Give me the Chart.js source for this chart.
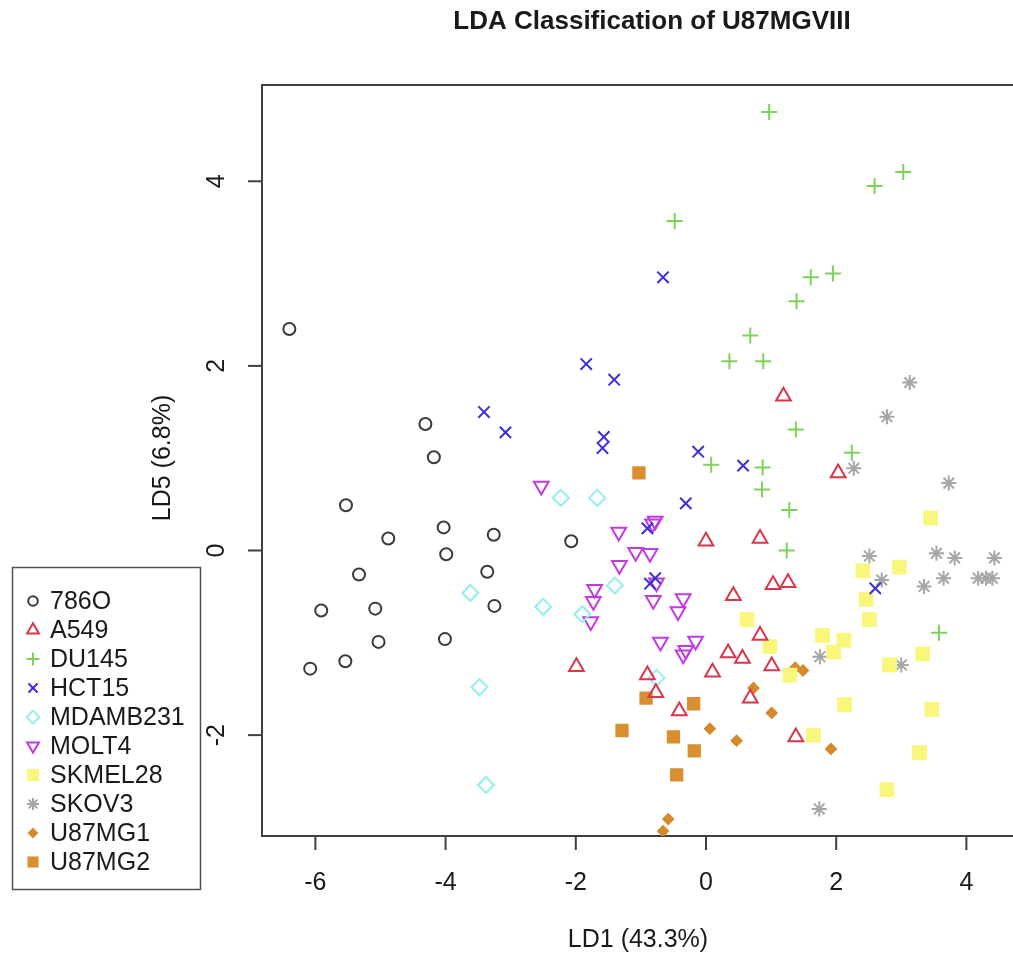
<!DOCTYPE html>
<html>
<head>
<meta charset="utf-8">
<script src="https://cdn.jsdelivr.net/npm/chart.js@4.4.1/dist/chart.umd.min.js"></script>
<style>
  html, body { margin: 0; padding: 0; background: #fff; overflow: hidden; }
</style>
</head>
<body>
<canvas id="lda" width="1013" height="954"></canvas>
<script>
// LD1 / LD5 scores per cell line
const x786O = [-6.40, -4.31, -4.18, -5.53, -4.88, -4.03, -3.26, -3.99, -5.33, -3.36, -2.07, -5.91, -5.08, -3.25, -5.03, -4.01, -5.54, -6.08];
const y786O = [2.40, 1.37, 1.01, 0.49, 0.13, 0.25, 0.17, -0.04, -0.26, -0.23, 0.10, -0.65, -0.63, -0.60, -0.99, -0.96, -1.20, -1.28];

const xA549 = [1.19, 2.03, 0.83, 0.00, 1.03, 1.26, 0.42, 0.83, 0.34, 0.56, 1.01, -1.99, -0.90, 0.10, -0.77, 0.68, -0.41, 1.38];
const yA549 = [1.67, 0.84, 0.13, 0.10, -0.37, -0.35, -0.49, -0.92, -1.11, -1.17, -1.25, -1.26, -1.35, -1.32, -1.54, -1.60, -1.74, -2.02];

const xDU145 = [0.97, 3.03, 2.59, -0.48, 1.95, 1.61, 1.39, 0.68, 0.36, 0.88, 1.38, 2.24, 0.08, 0.87, 0.86, 1.28, 1.24, 3.58];
const yDU145 = [4.75, 4.10, 3.95, 3.57, 3.00, 2.96, 2.70, 2.33, 2.05, 2.05, 1.31, 1.06, 0.93, 0.90, 0.66, 0.44, 0.00, -0.89];

const xHCT15 = [-0.66, -1.84, -1.41, -3.41, -3.08, -1.57, -1.59, -0.12, 0.57, -0.31, -0.90, -0.86, -0.78, 2.60];
const yHCT15 = [2.96, 2.02, 1.85, 1.50, 1.28, 1.23, 1.11, 1.07, 0.92, 0.51, 0.24, -0.36, -0.30, -0.41];

const xMDAMB231 = [-2.23, -1.67, -1.40, -3.62, -2.50, -1.90, -3.48, -0.76, -3.38];
const yMDAMB231 = [0.57, 0.57, -0.38, -0.46, -0.61, -0.69, -1.48, -1.38, -2.54];

const xMOLT4 = [-2.53, -1.34, -1.08, -0.86, -1.33, -0.82, -0.78, -1.71, -1.73, -1.77, -0.81, -0.76, -0.35, -0.43, -0.70, -0.16, -0.35, -0.31];
const yMOLT4 = [0.70, 0.20, -0.02, -0.03, -0.16, 0.29, 0.32, -0.42, -0.55, -0.77, -0.54, -0.35, -0.52, -0.66, -0.99, -0.98, -1.13, -1.08];

const xSKMEL28 = [3.45, 2.41, 2.97, 2.46, 2.51, 1.79, 2.12, 1.96, 3.33, 2.82, 1.29, 2.13, 3.47, 1.65, 3.28, 2.78, 0.63, 0.98];
const ySKMEL28 = [0.35, -0.22, -0.18, -0.53, -0.75, -0.92, -0.97, -1.10, -1.12, -1.24, -1.35, -1.67, -1.72, -2.00, -2.19, -2.59, -0.75, -1.04];

const xSKOV3 = [3.13, 2.78, 2.27, 3.73, 2.51, 3.54, 3.82, 4.43, 2.70, 3.35, 3.65, 4.18, 4.30, 4.40, 1.75, 3.00, 1.74];
const ySKOV3 = [1.82, 1.45, 0.89, 0.73, -0.06, -0.03, -0.08, -0.08, -0.32, -0.39, -0.30, -0.30, -0.30, -0.30, -1.15, -1.24, -2.80];

const xU87MG1 = [1.37, 1.49, 0.73, 1.01, 0.06, 0.47, 1.92, -0.58, -0.66];
const yU87MG1 = [-1.27, -1.30, -1.49, -1.76, -1.93, -2.06, -2.15, -2.91, -3.04];

const xU87MG2 = [-1.03, -0.92, -0.19, -1.29, -0.50, -0.18, -0.45];
const yU87MG2 = [0.84, -1.60, -1.66, -1.95, -2.02, -2.17, -2.43];

const xTicks = [-6, -4, -2, 0, 2, 4];
const yTicks = [-2, 0, 2, 4];

const FONT = '"Liberation Sans", Arial, Helvetica, sans-serif';
const NONE = 'rgba(0,0,0,0)';

function pts(xs, ys) {
  return xs.map((v, i) => ({ x: v, y: ys[i] }));
}

// one entry per cell line: R-like plotting symbols
const series = [
  { label: '786O',     xs: x786O,     ys: y786O,     style: 'circle',   r: 6,   rot: 0,   stroke: '#3a3a3a', fill: NONE },
  { label: 'A549',     xs: xA549,     ys: yA549,     style: 'triangle', r: 8.5, rot: 0,   stroke: '#d8364a', fill: NONE },
  { label: 'DU145',    xs: xDU145,    ys: yDU145,    style: 'cross',    r: 8,   rot: 0,   stroke: '#7dd35a', fill: NONE },
  { label: 'HCT15',    xs: xHCT15,    ys: yHCT15,    style: 'crossRot', r: 8,   rot: 0,   stroke: '#3a2fd8', fill: NONE },
  { label: 'MDAMB231', xs: xMDAMB231, ys: yMDAMB231, style: 'rectRot',  r: 8,   rot: 0,   stroke: '#92eef0', fill: NONE },
  { label: 'MOLT4',    xs: xMOLT4,    ys: yMOLT4,    style: 'triangle', r: 8.5, rot: 180, stroke: '#c23ae2', fill: NONE },
  { label: 'SKMEL28',  xs: xSKMEL28,  ys: ySKMEL28,  style: 'rect',     r: 9,   rot: 0,   stroke: '#f8f77c', fill: '#f8f77c' },
  { label: 'SKOV3',    xs: xSKOV3,    ys: ySKOV3,    style: 'star',     r: 7.5, rot: 0,   stroke: '#a6a6a6', fill: NONE },
  { label: 'U87MG1',   xs: xU87MG1,   ys: yU87MG1,   style: 'rectRot',  r: 5,   rot: 0,   stroke: '#d58a2c', fill: '#d58a2c' },
  { label: 'U87MG2',   xs: xU87MG2,   ys: yU87MG2,   style: 'rect',     r: 8,   rot: 0,   stroke: '#d98f30', fill: '#d98f30' }
];

// box, ticks, labels and title drawn R-style
const rFrame = {
  id: 'rFrame',
  beforeDatasetsDraw(chart) {
    const { ctx, chartArea: a } = chart;
    ctx.save();
    ctx.strokeStyle = '#404040';
    ctx.lineWidth = 2;
    ctx.beginPath();
    ctx.moveTo(chart.width + 5, a.top);
    ctx.lineTo(a.left, a.top);
    ctx.lineTo(a.left, a.bottom);
    ctx.lineTo(chart.width + 5, a.bottom);
    ctx.stroke();
    ctx.restore();
  },
  afterDraw(chart) {
    const { ctx, chartArea: a, scales } = chart;
    const sx = scales.x, sy = scales.y;
    ctx.save();
    ctx.strokeStyle = '#404040';
    ctx.lineWidth = 2;
    ctx.fillStyle = '#1a1a1a';
    ctx.font = '25px ' + FONT;
    ctx.textAlign = 'center';
    ctx.textBaseline = 'middle';

    xTicks.forEach(t => {
      const px = sx.getPixelForValue(t);
      ctx.beginPath();
      ctx.moveTo(px, a.bottom);
      ctx.lineTo(px, a.bottom + 14);
      ctx.stroke();
      ctx.fillText(String(t), px, 883);
    });

    yTicks.forEach(t => {
      const py = sy.getPixelForValue(t);
      ctx.beginPath();
      ctx.moveTo(a.left, py);
      ctx.lineTo(a.left - 14, py);
      ctx.stroke();
      ctx.save();
      ctx.translate(217, py);
      ctx.rotate(-Math.PI / 2);
      ctx.fillText(String(t), 0, 0);
      ctx.restore();
    });

    // axis titles
    ctx.fillText('LD1 (43.3%)', 638, 940);
    ctx.save();
    ctx.translate(163, 458);
    ctx.rotate(-Math.PI / 2);
    ctx.fillText('LD5 (6.8%)', 0, 0);
    ctx.restore();

    // main title
    ctx.font = 'bold 26px ' + FONT;
    ctx.fillText('LDA Classification of U87MGVIII', 652, 22);

    // legend box
    ctx.fillStyle = '#fff';
    ctx.fillRect(12, 567, 188, 322);
    ctx.strokeStyle = '#505050';
    ctx.lineWidth = 1.5;
    ctx.strokeRect(12.5, 567.5, 188, 322);

    ctx.font = '25px ' + FONT;
    ctx.textAlign = 'left';
    series.forEach((s, i) => {
      const cy = 601 + i * 29;
      if (Chart.helpers && Chart.helpers.drawPoint) {
        ctx.save();
        ctx.strokeStyle = s.stroke;
        ctx.fillStyle = s.fill;
        ctx.lineWidth = 2;
        Chart.helpers.drawPoint(ctx, {
          pointStyle: s.style,
          radius: s.r * 0.8,
          rotation: s.rot,
          borderWidth: 2
        }, 33, cy);
        ctx.restore();
      }
      ctx.fillStyle = '#1a1a1a';
      ctx.fillText(s.label, 50, cy + 1);
    });
    ctx.restore();
  }
};

new Chart(document.getElementById('lda'), {
  type: 'scatter',
  data: {
    datasets: series.map(s => ({
      label: s.label,
      data: pts(s.xs, s.ys),
      pointStyle: s.style,
      pointRadius: s.r,
      pointRotation: s.rot,
      pointBorderColor: s.stroke,
      pointBackgroundColor: s.fill,
      pointBorderWidth: 2,
      pointHoverRadius: s.r
    }))
  },
  options: {
    responsive: false,
    animation: false,
    devicePixelRatio: 1,
    layout: { padding: { left: 262, top: 85, right: 0, bottom: 118 } },
    plugins: {
      legend: { display: false },
      tooltip: { enabled: false },
      title: { display: false }
    },
    scales: {
      x: { type: 'linear', min: -6.82, max: 4.547, display: false },
      y: { type: 'linear', min: -3.093, max: 5.043, display: false }
    }
  },
  plugins: [rFrame]
});
</script>
</body>
</html>
